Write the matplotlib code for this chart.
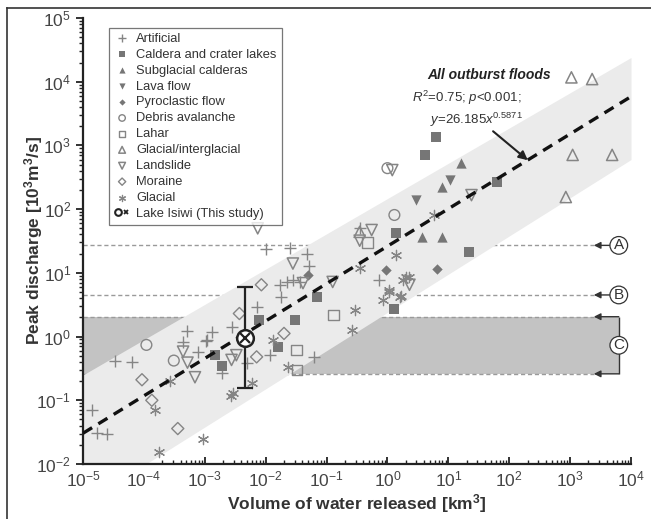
import numpy as np
import matplotlib
matplotlib.use("Agg")
import matplotlib.pyplot as plt
from matplotlib.lines import Line2D
from matplotlib.legend_handler import HandlerTuple
from matplotlib.ticker import LogLocator, NullFormatter

plt.rcParams['font.family'] = ['Liberation Sans', 'DejaVu Sans']
plt.rcParams['mathtext.fontset'] = 'custom'
plt.rcParams['mathtext.rm'] = 'Liberation Sans'
plt.rcParams['mathtext.it'] = 'Liberation Sans:italic'
plt.rcParams['mathtext.bf'] = 'Liberation Sans:bold'

# ---------------- data (volume km3, peak discharge 10^3 m3/s) ----------------
artificial_x = [1.4e-5, 1.7e-5, 2.5e-5, 3.3e-5, 6.3e-5, 5.2e-4, 4.4e-4, 1.3e-3, 1.05e-3, 7.8e-4,
                1.9e-3, 2.75e-3, 7.1e-3, 1.8e-2, 1.7e-2, 2.2e-2, 1.2e-2, 4.9e-3, 2.5e-2, 4.7e-2,
                5.2e-2, 2.8e-2, 3.6e-2, 0.35, 0.063, 1.07e-3, 0.74, 1.0e-2]
artificial_y = [0.071, 0.031, 0.030, 0.42, 0.40, 1.23, 0.81, 1.17, 0.85, 0.58,
                0.27, 1.41, 2.9, 4.2, 6.5, 7.2, 0.51, 0.38, 24.5, 20,
                13, 7.8, 7.2, 50, 0.48, 0.87, 7.8, 24]

caldera_x = [6.3, 4.1, 63, 1.4, 22, 1.3, 0.071, 0.030, 1.45e-3, 1.9e-3, 7.9e-3, 0.016]
caldera_y = [1350, 710, 270, 42, 21, 2.7, 4.2, 1.8, 0.51, 0.35, 1.8, 0.69]

subglacial_x = [16, 7.9, 3.7, 7.9]
subglacial_y = [525, 224, 36, 37]

lava_x = [10.5, 3.0]
lava_y = [290, 138]

pyroclastic_x = [0.95, 6.6, 0.049]
pyroclastic_y = [11, 11.5, 9.3]

debris_x = [1.0, 1.3, 1.1e-4, 3.1e-4]
debris_y = [440, 81, 0.74, 0.42]

lahar_x = [0.47, 0.13, 0.032, 0.033]
lahar_y = [30, 2.2, 0.62, 0.30]

interglacial_x = [1050, 2300, 1100, 4900, 850, 0.35]
interglacial_y = [11700, 11000, 710, 710, 155, 44]

landslide_x = [1.2, 24, 0.55, 0.35, 0.028, 0.041, 0.126, 2.3, 7.4e-3, 4.4e-4, 5.2e-4, 6.9e-4,
               3.3e-3, 2.75e-3]
landslide_y = [410, 166, 47, 32, 14, 6.9, 7.2, 6.5, 50, 0.58, 0.39, 0.23, 0.51, 0.43]

moraine_x = [3.7e-3, 9.3e-5, 1.35e-4, 3.6e-4, 8.5e-3, 7.1e-3, 0.020]
moraine_y = [2.3, 0.21, 0.10, 0.036, 6.5, 0.48, 1.12]

glacial_x = [1.5e-4, 1.8e-4, 9.3e-4, 2.9e-3, 2.7e-3, 2.7e-4, 5.9e-3, 0.013, 0.023, 0.26,
             5.9, 1.4, 2.0, 1.8, 1.07, 0.83, 1.6, 0.29, 1.07, 2.3, 1.7, 0.35]
glacial_y = [0.071, 0.0155, 0.025, 0.13, 0.115, 0.20, 0.186, 0.89, 0.33, 1.26,
             81, 19, 8.5, 7.8, 5.0, 3.7, 4.2, 2.6, 5.4, 8.5, 4.4, 12]

isiwi_x = 4.5e-3
isiwi_y = 0.95
isiwi_low = 0.155
isiwi_high = 6.0

# regression y = a * x^b
reg_a = 26.185
reg_b = 0.5871
# prediction band edges
band_x = [1e-5, 1e4]
band_upper = [0.25, 2.4e4]
band_lower = [0.0024, 600]

# threshold lines
level_a = 27
level_b = 4.5
zone_c_low = 0.26
zone_c_high = 2.05

# ---------------- figure ----------------
W, H = 651, 519
fig = plt.figure(figsize=(W / 100, H / 100), dpi=100)
ax = fig.add_axes([83 / W, 1 - 464 / H, 548 / W, 446 / H])
ax.set_xscale('log')
ax.set_yscale('log')
ax.set_xlim(1e-5, 1e4)
ax.set_ylim(1e-2, 1e5)

x_arrow_tip = 2450
x_bracket = 6300

# zone C rectangle
ax.fill_between([1e-5, x_bracket], zone_c_low, zone_c_high, color='#c3c3c3', lw=0, zorder=1)
dash = (0, (3, 2))
for lv in [level_a, level_b, zone_c_high, zone_c_low]:
    ax.hlines(lv, 1e-5, x_arrow_tip, colors='#9a9a9a', linestyles=dash, lw=1.0, zorder=1.5)

# band
ax.fill_between(band_x, band_lower, band_upper, color='#ebebeb', lw=0, zorder=2)

# regression line
xr = np.logspace(-5, 4, 50)
ax.plot(xr, reg_a * xr ** reg_b, color='#111111', lw=2.4, ls=(0, (3.2, 2.2)), zorder=6)

gray_f = '#767676'
gray_o = '#858585'
handles = []
h = ax.scatter(artificial_x, artificial_y, marker='+', s=80, c=gray_o, lw=1.0, zorder=4)
handles.append(h)
h = ax.scatter(caldera_x, caldera_y, marker='s', s=46, c=gray_f, lw=0, zorder=4)
handles.append(h)
h = ax.scatter(subglacial_x, subglacial_y, marker='^', s=55, c=gray_f, lw=0, zorder=4)
handles.append(h)
h = ax.scatter(lava_x, lava_y, marker='v', s=55, c=gray_f, lw=0, zorder=4)
handles.append(h)
h = ax.scatter(pyroclastic_x, pyroclastic_y, marker='D', s=28, c=gray_f, lw=0, zorder=4)
handles.append(h)
h = ax.scatter(debris_x, debris_y, marker='o', s=60, facecolors='none', edgecolors=gray_o, lw=1.0, zorder=4)
handles.append(h)
h = ax.scatter(lahar_x, lahar_y, marker='s', s=55, facecolors='none', edgecolors=gray_o, lw=1.0, zorder=4)
handles.append(h)
h = ax.scatter(interglacial_x, interglacial_y, marker='^', s=65, facecolors='none', edgecolors=gray_o, lw=1.1, zorder=4)
handles.append(h)
h = ax.scatter(landslide_x, landslide_y, marker='v', s=65, facecolors='none', edgecolors=gray_o, lw=1.1, zorder=4)
handles.append(h)
h = ax.scatter(moraine_x, moraine_y, marker='D', s=38, facecolors='none', edgecolors=gray_o, lw=1.0, zorder=4)
handles.append(h)
h = ax.scatter(glacial_x, glacial_y, marker=(6, 2, 0), s=55, c=gray_o, lw=0.9, zorder=4)
handles.append(h)

# Lake Isiwi
ax.errorbar([isiwi_x], [isiwi_y], yerr=[[isiwi_y - isiwi_low], [isiwi_high - isiwi_y]],
            fmt='none', ecolor='#222222', elinewidth=1.6, capsize=6, capthick=1.6, zorder=7)
ax.plot([isiwi_x], [isiwi_y], 'o', ms=12, mfc='white', mec='#222222', mew=1.8, zorder=8)
ax.plot([isiwi_x], [isiwi_y], 'x', ms=7, mec='#222222', mew=1.6, zorder=9)
lh1 = Line2D([], [], marker='o', ls='', ms=8, mfc='white', mec='#222222', mew=1.5)
lh2 = Line2D([], [], marker='x', ls='', ms=4.5, mec='#222222', mew=1.3)
handles.append((lh1, lh2))

labels = ['Artificial', 'Caldera and crater lakes', 'Subglacial calderas', 'Lava flow',
          'Pyroclastic flow', 'Debris avalanche', 'Lahar', 'Glacial/interglacial',
          'Landslide', 'Moraine', 'Glacial', 'Lake Isiwi (This study)']
leg = ax.legend(handles, labels, loc='upper left', bbox_to_anchor=(0.036, 0.993),
                fontsize=9.3, frameon=True, fancybox=False, edgecolor='#555555',
                handler_map={tuple: HandlerTuple(ndivide=None, pad=0)},
                markerscale=0.6, handletextpad=0.5, labelspacing=0.3, borderpad=0.4,
                handlelength=1.2, labelcolor='#333333')
leg.get_frame().set_linewidth(0.9)
leg.set_zorder(10)

# annotation
ax.text(10 ** 1.67, 10 ** 4.11, 'All outburst floods', fontsize=10, fontweight='bold', style='italic',
        ha='center', va='center', color='#222222', zorder=9)
ax.text(10 ** 1.30, 10 ** 3.74, r'$R^2$=0.75; $p$<0.001;', fontsize=9.5, ha='center', va='center',
        color='#333333', zorder=9)
ax.text(10 ** 1.46, 10 ** 3.40, r'$y$=26.185$x^{0.5871}$', fontsize=9.5, ha='center', va='center',
        color='#333333', zorder=9)
ax.annotate('', xy=(10 ** 2.34, 10 ** 2.74), xytext=(10 ** 1.70, 10 ** 3.25),
            arrowprops=dict(arrowstyle='-|>', color='#222222', lw=1.5, mutation_scale=13), zorder=9)

# A, B, C markers
circ = dict(boxstyle='circle,pad=0.12', fc='white', ec='#333333', lw=0.9)
for lv, lab in [(level_a, 'A'), (level_b, 'B')]:
    ax.annotate('', xy=(x_arrow_tip, lv), xytext=(x_bracket * 0.85, lv),
                arrowprops=dict(arrowstyle='-|>', color='#333333', lw=1.0, mutation_scale=10,
                                shrinkA=0, shrinkB=0), zorder=8)
    ax.text(x_bracket, lv, lab, fontsize=11, ha='center', va='center', color='#333333', bbox=circ, zorder=9)

ax.vlines(x_bracket, zone_c_low, zone_c_high, colors='#333333', lw=1.0, zorder=8)
for lv in [zone_c_high, zone_c_low]:
    ax.annotate('', xy=(x_arrow_tip, lv), xytext=(x_bracket, lv),
                arrowprops=dict(arrowstyle='-|>', color='#333333', lw=1.0, mutation_scale=10,
                                shrinkA=0, shrinkB=0), zorder=8)
ax.text(x_bracket, np.sqrt(zone_c_low * zone_c_high), 'C', fontsize=11, ha='center', va='center',
        color='#333333', bbox=circ, zorder=9)

# axes styling
for s in ['top', 'right']:
    ax.spines[s].set_visible(False)
for s in ['left', 'bottom']:
    ax.spines[s].set_linewidth(1.6)
    ax.spines[s].set_color('#222222')
ax.xaxis.set_major_locator(LogLocator(base=10, numticks=20))
ax.yaxis.set_major_locator(LogLocator(base=10, numticks=20))
ax.xaxis.set_minor_locator(LogLocator(base=10, subs=np.arange(2, 10), numticks=20))
ax.yaxis.set_minor_locator(LogLocator(base=10, subs=np.arange(2, 10), numticks=20))
ax.xaxis.set_minor_formatter(NullFormatter())
ax.yaxis.set_minor_formatter(NullFormatter())
ax.tick_params(axis='x', which='major', direction='in', length=5, width=1.3, labelsize=12.5,
               colors='#222222', labelcolor='#444444', pad=4)
ax.tick_params(axis='x', which='minor', direction='in', length=3, width=1.0, colors='#222222')
ax.tick_params(axis='y', which='major', direction='out', length=5, width=1.3, labelsize=12.5,
               colors='#222222', labelcolor='#444444')
ax.tick_params(axis='y', which='minor', direction='out', length=3, width=1.0, colors='#222222')

ax.set_xlabel(r'Volume of water released [km$^{\mathbf{3}}$]', fontsize=12.5, fontweight='bold',
              color='#333333', labelpad=2)
ax.set_ylabel(r'Peak discharge [10$^{\mathbf{3}}$m$^{\mathbf{3}}$/s]', fontsize=12.5, fontweight='bold',
              color='#333333', labelpad=-6)

# outer frame lines
fig.add_artist(Line2D([7 / W, 7 / W], [0, 1 - 8 / H], transform=fig.transFigure, color='#333333', lw=1.2))
fig.add_artist(Line2D([7 / W, 1], [1 - 8 / H, 1 - 8 / H], transform=fig.transFigure, color='#333333', lw=1.2))

fig.savefig('out.png', dpi=100)
